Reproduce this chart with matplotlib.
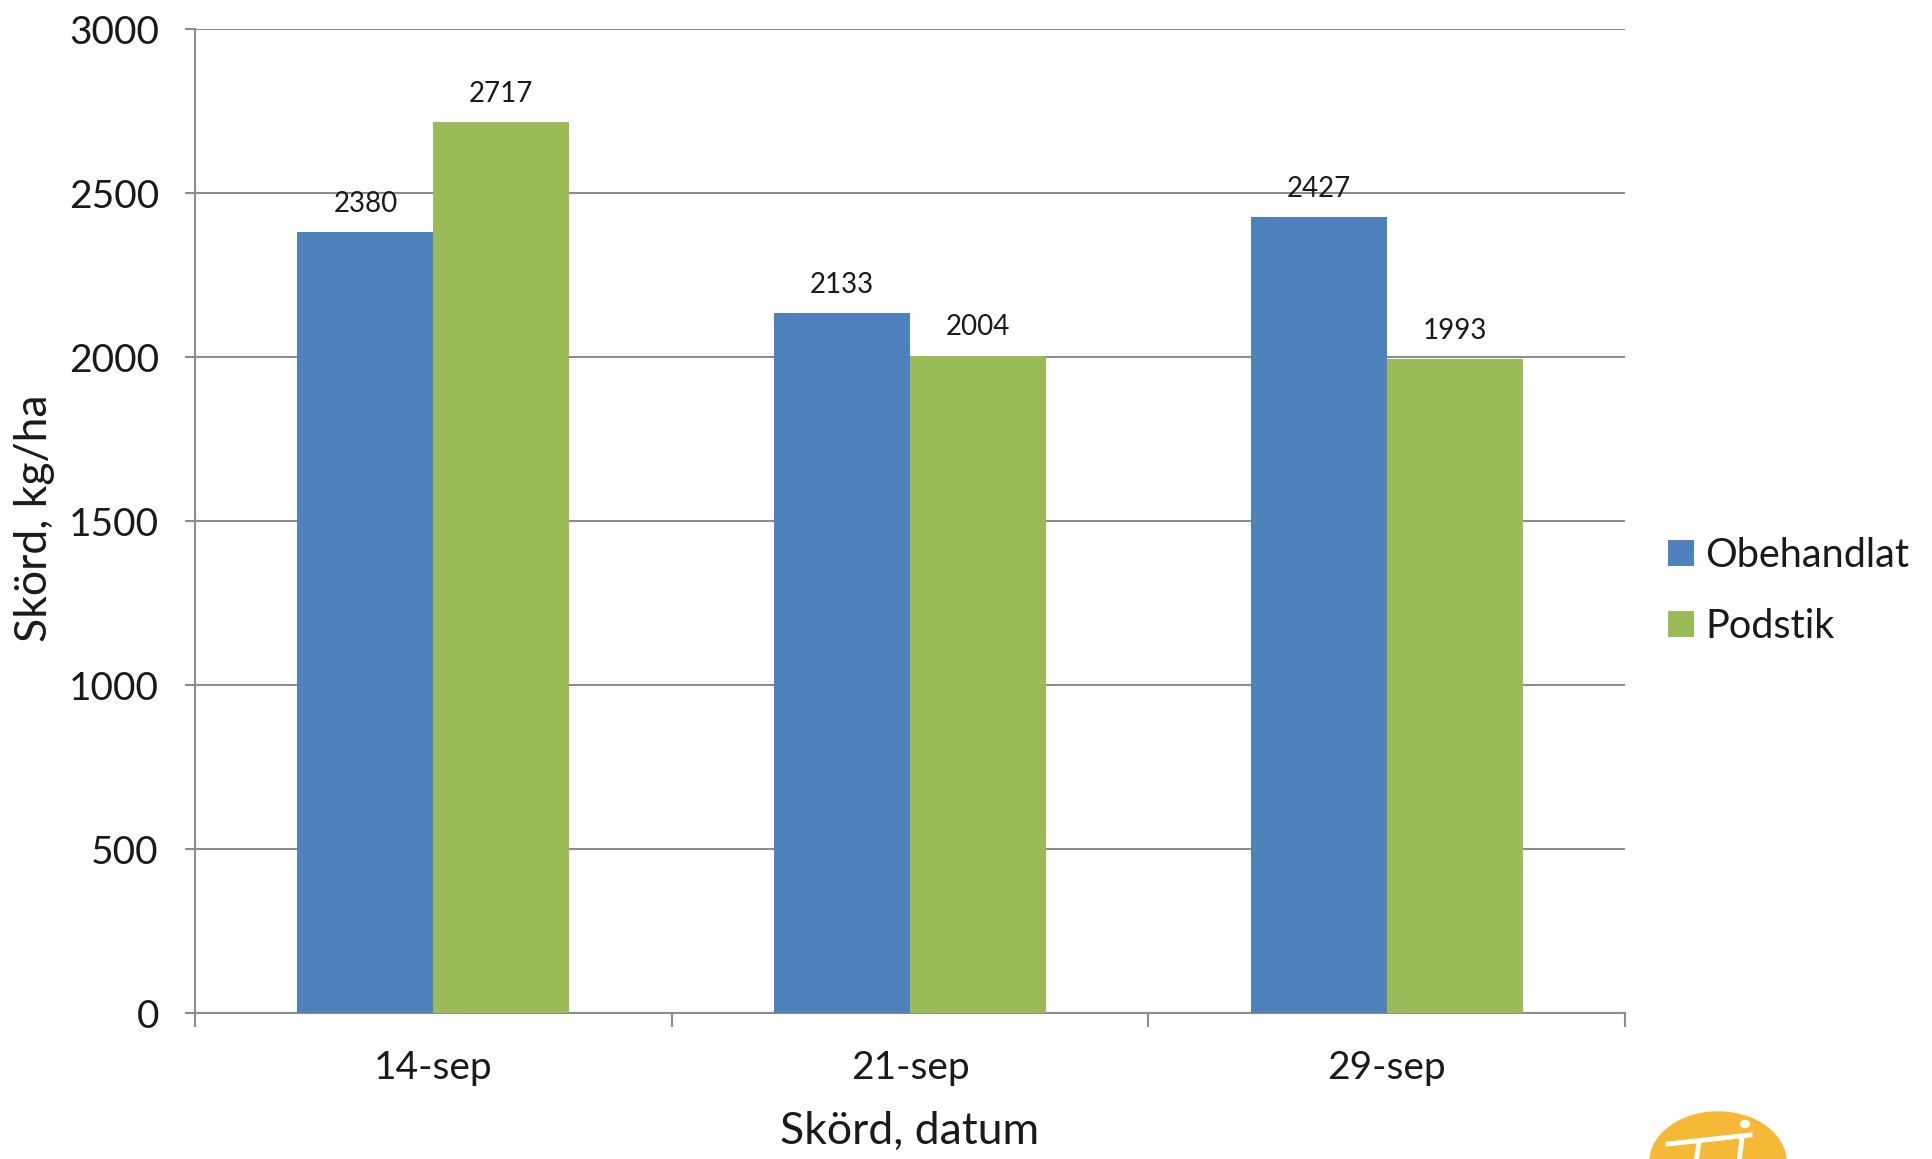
import matplotlib
matplotlib.use("Agg")
import matplotlib.pyplot as plt
import numpy as np
from matplotlib.patches import Ellipse

plt.rcParams['font.family'] = ['Lato', 'DejaVu Sans']

# Harvest yield per harvest date
dates = ["14-sep", "21-sep", "29-sep"]
obehandlat = [2380, 2133, 2427]
podstik = [2717, 2004, 1993]
series_names = ["Obehandlat", "Podstik"]
y_ticks = [0, 500, 1000, 1500, 2000, 2500, 3000]

BLUE = "#4F81BD"
GREEN = "#9BBB59"
GRID = "#8C8C8C"
TEXT = "#1A1A1A"

W, H, DPI = 1933, 1159, 100
fig = plt.figure(figsize=(W / DPI, H / DPI), dpi=DPI)
ax = fig.add_axes([195 / W, 1 - 1013 / H, 1430 / W, 984 / H])

x = np.arange(len(dates))
bw = 0.285
b1 = ax.bar(x - bw / 2, obehandlat, bw, color=BLUE, label=series_names[0], zorder=3)
b2 = ax.bar(x + bw / 2, podstik, bw, color=GREEN, label=series_names[1], zorder=3)

for bars, vals in ((b1, obehandlat), (b2, podstik)):
    for rect, v in zip(bars, vals):
        ax.annotate(f"{v}", (rect.get_x() + rect.get_width() / 2, v),
                    xytext=(0, 11), textcoords="offset points",
                    ha="center", va="bottom", fontsize=20, color=TEXT)

ax.set_xlim(-0.5, len(dates) - 0.5)
ax.set_ylim(0, 3000)
ax.set_yticks(y_ticks)
ax.yaxis.grid(True, color=GRID, linewidth=1.5, zorder=0)
ax.set_axisbelow(True)

ax.set_xticks(x)
ax.set_xticklabels(dates)
ax.set_xticks(np.arange(-0.5, len(dates)), minor=True)
ax.tick_params(axis="x", which="major", length=0, pad=27, labelsize=28, labelcolor=TEXT)
ax.tick_params(axis="x", which="minor", length=10, width=1.5, color=GRID, direction="out")
ax.tick_params(axis="y", length=7, width=1.5, color=GRID, pad=19, labelsize=28, labelcolor=TEXT)

for s in ("top", "right"):
    ax.spines[s].set_visible(False)
for s in ("left", "bottom"):
    ax.spines[s].set_color(GRID)
    ax.spines[s].set_linewidth(1.5)

fig.text(910 / W, 1 - 1131 / H, "Skörd, datum", ha="center", va="center",
         fontsize=32, color=TEXT)
fig.text(35 / W, 1 - 518 / H, "Skörd, kg/ha", ha="center", va="center",
         rotation=90, fontsize=32, color=TEXT)

leg = ax.legend(loc="center left", bbox_to_anchor=(1668 / W, 1 - 591 / H),
                bbox_transform=fig.transFigure, frameon=False, fontsize=28.5,
                handlelength=0.65, handleheight=0.65, handletextpad=0.3,
                labelspacing=0.85, borderpad=0, borderaxespad=0)
for t in leg.get_texts():
    t.set_color(TEXT)

# Logo partly visible at the lower right corner
tf = fig.transFigure
fig.patches.append(Ellipse((1718 / W, 1 - 1162 / H), 136 / W, 100 / H,
                           transform=tf, color="#F6B935", zorder=5))
fig.lines.append(plt.Line2D([1668 / W, 1750 / W], [1 - 1144 / H, 1 - 1135 / H],
                            transform=tf, color="white", linewidth=3.5, zorder=6))
fig.patches.append(Ellipse((1745 / W, 1 - 1124 / H), 9 / W, 7 / H,
                           transform=tf, color="white", zorder=6))
fig.lines.append(plt.Line2D([1699 / W, 1696 / W], [1 - 1143 / H, 1 - 1162 / H],
                            transform=tf, color="white", linewidth=3.5, zorder=6))
fig.lines.append(plt.Line2D([1742 / W, 1739 / W], [1 - 1138 / H, 1 - 1162 / H],
                            transform=tf, color="white", linewidth=3.5, zorder=6))

fig.savefig("out.png", dpi=DPI)
